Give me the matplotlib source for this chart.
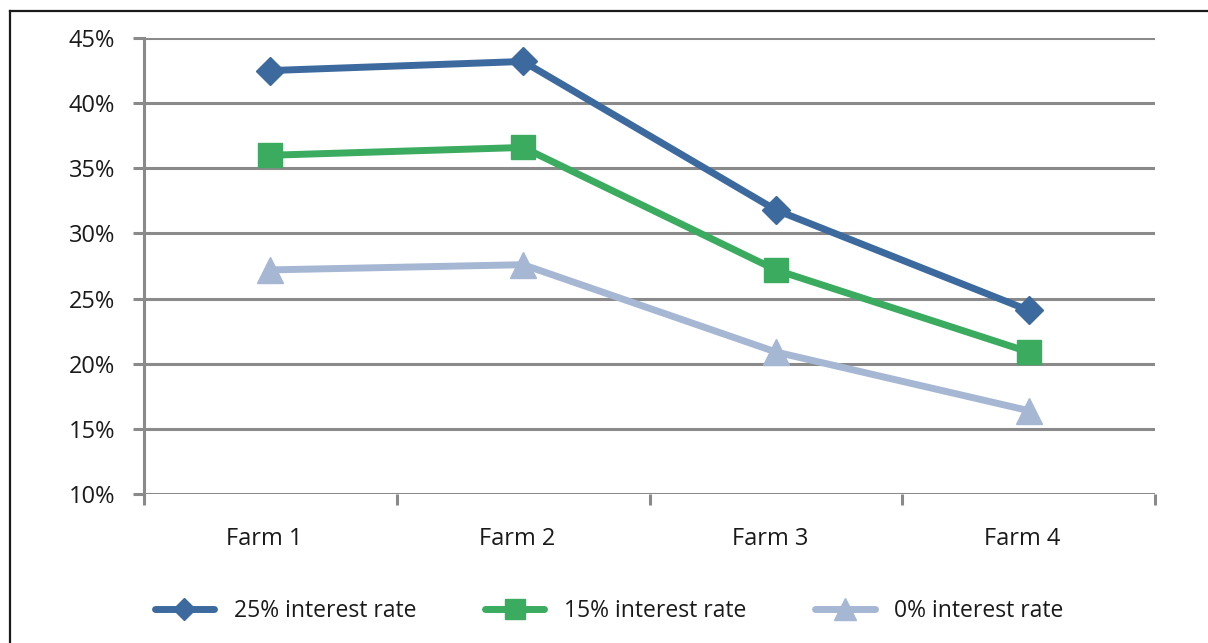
import matplotlib
matplotlib.use("Agg")
import matplotlib.pyplot as plt
from matplotlib.lines import Line2D
from matplotlib.ticker import FuncFormatter, FixedLocator
from matplotlib.transforms import ScaledTranslation

farms = ["Farm 1", "Farm 2", "Farm 3", "Farm 4"]
rate_25 = [42.5, 43.2, 31.8, 24.1]
rate_15 = [36.0, 36.6, 27.2, 20.9]
rate_0 = [27.2, 27.6, 20.9, 16.4]
series_labels = ["25% interest rate", "15% interest rate", "0% interest rate"]
y_ticks = [10, 15, 20, 25, 30, 35, 40, 45]

plt.rcParams["font.family"] = ["Open Sans", "DejaVu Sans"]

W, H = 1208, 643
fig = plt.figure(figsize=(W / 100, H / 100), dpi=100)
fig.patch.set_facecolor("white")
ax = fig.add_axes([144 / W, 1 - 494 / H, (1155 - 144) / W, (494 - 38) / H])

grid_c = "#8a8a8a"
text_c = "#1a1a1a"
x = list(range(len(farms)))

styles = [
    (rate_25, "#3d6a9e", "D", 14),
    (rate_15, "#3aab5f", "s", 17.5),
    (rate_0, "#a6b7d4", "^", 19),
]
handles = []
for (vals, col, mk, ms), lab in zip(styles, series_labels):
    h, = ax.plot(x, vals, color=col, lw=5, marker=mk, markersize=ms,
                 markerfacecolor=col, markeredgecolor=col, label=lab,
                 solid_capstyle="round", zorder=3)
    handles.append(h)

ax.set_xlim(-0.5, len(farms) - 0.5)
ax.set_ylim(10, 45)
ax.yaxis.set_major_locator(FixedLocator(y_ticks))
ax.yaxis.set_major_formatter(FuncFormatter(lambda v, p: f"{v:.0f}%"))
ax.set_xticks(x)
ax.set_xticklabels(farms)
ax.set_xticks([i - 0.5 for i in range(len(farms) + 1)], minor=True)

ax.grid(axis="y", color=grid_c, lw=2.2, zorder=1)
for s in ["top", "right", "bottom"]:
    ax.spines[s].set_visible(False)
ax.spines["left"].set_color(grid_c)
ax.spines["left"].set_linewidth(2.2)

ax.tick_params(axis="y", which="major", length=8, width=2.2, color=grid_c,
               labelsize=17, labelcolor=text_c, pad=13)
ax.tick_params(axis="x", which="major", length=0, labelsize=17,
               labelcolor=text_c, pad=24)
ax.tick_params(axis="x", which="minor", length=8, width=2.2, color=grid_c,
               direction="out")

# category labels sit slightly left of their category centre
shift = ScaledTranslation(-6 / 100, 0, fig.dpi_scale_trans)
for lbl in ax.get_xticklabels():
    lbl.set_transform(lbl.get_transform() + shift)

leg = fig.legend(handles=handles, loc="center",
                 bbox_to_anchor=(0.5 + 5 / W, 1 - 611 / H), ncol=3,
                 frameon=False, fontsize=16.5, handlelength=2.6,
                 columnspacing=3.0, handletextpad=0.85, markerscale=0.8)
for t in leg.get_texts():
    t.set_color(text_c)

# outer frame
fig.add_artist(Line2D([9.5 / W, 1], [1 - 10.5 / H, 1 - 10.5 / H],
                      transform=fig.transFigure, color="#1a1a1a", lw=1.6))
fig.add_artist(Line2D([9.5 / W, 9.5 / W], [0, 1 - 10.5 / H],
                      transform=fig.transFigure, color="#1a1a1a", lw=1.6))

fig.savefig("out.png", dpi=100, facecolor="white")
